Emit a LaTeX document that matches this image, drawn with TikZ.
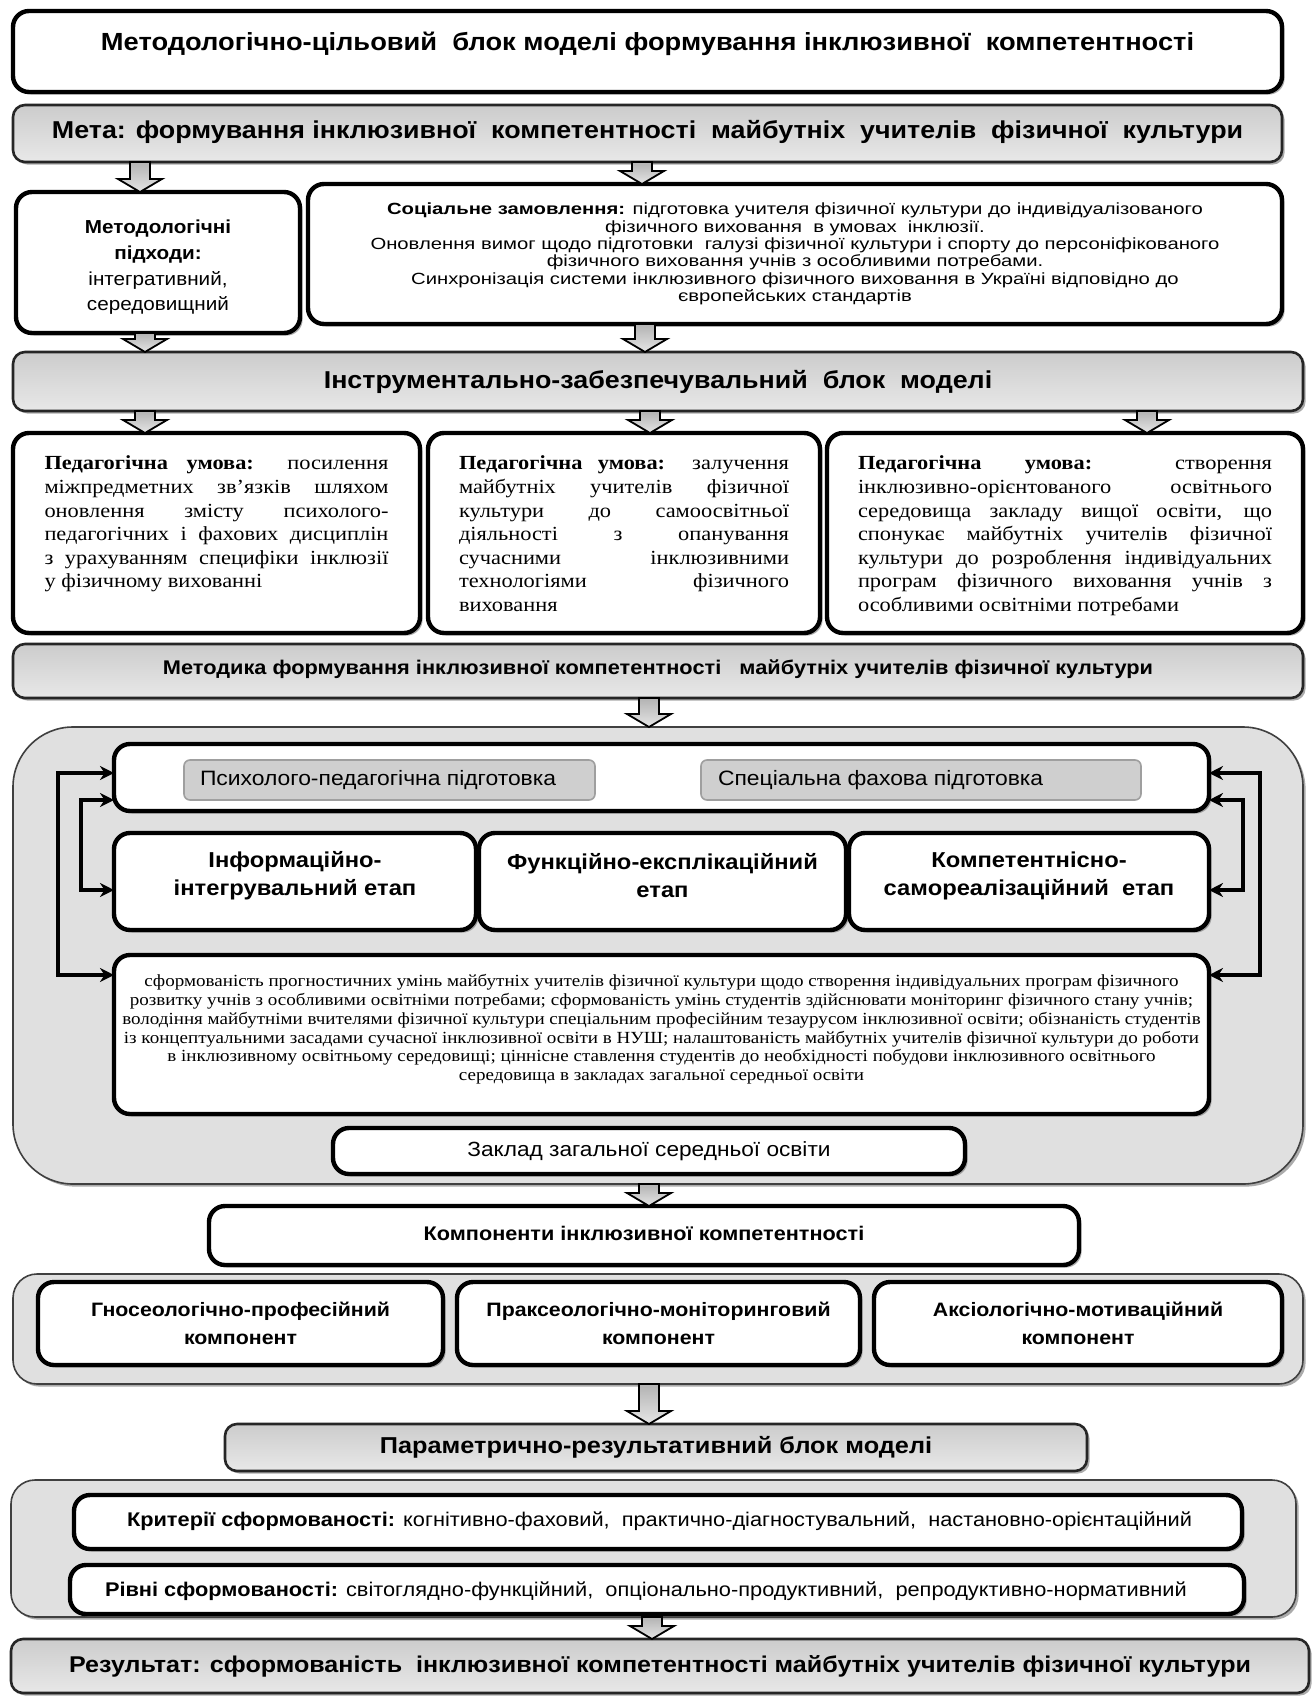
\documentclass[tikz,border=0pt]{standalone}
\usepackage{fontspec}
\setmainfont[FakeStretch=1.1]{Liberation Sans}
\newfontfamily\widesans[FakeStretch=1.25]{Liberation Sans}
\newfontfamily\serifcy[FakeStretch=1.12]{Liberation Serif}
\usetikzlibrary{fit,shadows,arrows.meta,calc}
\newcommand\fs[2]{\fontsize{#1}{#2}\selectfont}
\newcommand\jl[2]{\makebox[#1][s]{#2}}
\newcommand\tbox[5]{\node[#1, fit={#2}] (#3) {};\node[#4] (#3t) at (#3.center) {#5};}
\newcommand\barrow[3]{%
  \draw[barrowsty] let \p1=(#2.south), \p2=(#3.north), \n1={#1*0.5} in
   (\n1pt-5pt,\y1) -- (\n1pt+5pt,\y1) -- (\n1pt+5pt,\y2+6.5pt) -- (\n1pt+11pt,\y2+6.5pt)
   -- (\n1pt,\y2) -- (\n1pt-11pt,\y2+6.5pt) -- (\n1pt-5pt,\y2+6.5pt) -- cycle;}
\tikzset{
  every node/.style={inner sep=0pt, outer sep=0pt},
  shad/.style={drop shadow={shadow xshift=1.3pt, shadow yshift=-1.3pt, fill=black!55, opacity=0.6}},
  wbox/.style={draw=black, line width=2.2pt, fill=white, rounded corners=8pt, shad},
  gbox/.style={draw=black!85, line width=1.3pt, top color=gray!40, bottom color=gray!18, rounded corners=6pt, shad},
  cont/.style={draw=black!75, line width=0.8pt, fill=gray!24, rounded corners=12pt, shad},
  ibox/.style={draw=gray!75, line width=0.8pt, fill=gray!38, rounded corners=3pt},
  barrowsty/.style={draw=black, line width=0.9pt, top color=gray!60, bottom color=gray!20, line join=miter},
  sarrow/.style={line width=1.6pt, {Stealth[length=7pt,width=7pt]}-{Stealth[length=7pt,width=7pt]}},
  htxt/.style={font=\fs{12.2}{14}\bfseries},
  stxt/.style={font=\fs{10.8}{14}\bfseries, align=center},
  ctxt/.style={font=\fs{9.7}{14}\bfseries, align=center},
  ptxt/.style={font=\serifcy\fs{10}{11.8}, align=justify, anchor=north},
}
\begin{document}
\begin{tikzpicture}[x=0.5pt, y=-0.5pt]
\useasboundingbox (0,0) rectangle (1312,1696);
\fill[white] (0,0) rectangle (1312,1696);

% ---- methodological block
\tbox{wbox}{(13,11)(1282,92)}{title}{htxt, font=\fs{12.4}{14}\bfseries, yshift=4pt}
  {Методологічно-цільовий\ \ блок моделі формування інклюзивної\ \ компетентності}
\tbox{gbox}{(13,105)(1282,162)}{meta}{htxt, yshift=1pt}
  {Мета: формування інклюзивної\ \ компетентності\ \ майбутніх\ \ учителів\ \ фізичної\ \ культури}

\node[wbox, fit={(16,192)(300,333)}] (pidh) {};
\node[align=center, font=\fs{9.4}{12.8}] (pidht) at ($(pidh.center)+(0,5)$)
  {\textbf{Методологічні}\\\textbf{підходи:}\\інтегративний,\\середовищний};
\tbox{wbox}{(308,184)(1282,324)}{soc}{align=center, font=\widesans\fs{8.1}{8.7}}
  {\textbf{Соціальне замовлення:} підготовка учителя фізичної культури до індивідуалізованого\\
   фізичного виховання\ \ в умовах\ \ інклюзії.\\
   Оновлення вимог щодо підготовки\ \ галузі фізичної культури і спорту до персоніфікованого\\
   фізичного виховання учнів з особливими потребами.\\
   Синхронізація системи інклюзивного фізичного виховання в Україні відповідно до\\
   європейських стандартів}

% ---- instrumental block
\tbox{gbox}{(13,352)(1303,411)}{instr}{htxt}{Інструментально-забезпечувальний\ \ блок\ \ моделі}

\node[wbox, fit={(13,433)(420,633)}] (pu1) {};
\node[ptxt, text width=172pt] (pu1t) at ($(pu1.north)+(0,23)$)
  {\jl{172pt}{\textbf{Педагогічна умова:} посилення}\\
   \jl{172pt}{міжпредметних зв’язків шляхом}\\
   \jl{172pt}{оновлення змісту психолого-}\\
   \jl{172pt}{педагогічних і фахових дисциплін}\\
   \jl{172pt}{з урахуванням специфіки інклюзії}\\
   \makebox[172pt][l]{у фізичному вихованні}};
\node[wbox, fit={(428,433)(820,633)}] (pu2) {};
\node[ptxt, text width=165pt] (pu2t) at ($(pu2.north)+(0,23)$)
  {\jl{165pt}{\textbf{Педагогічна умова:} залучення}\\
   \jl{165pt}{майбутніх учителів фізичної}\\
   \jl{165pt}{культури до самоосвітньої}\\
   \jl{165pt}{діяльності з опанування}\\
   \jl{165pt}{сучасними інклюзивними}\\
   \jl{165pt}{технологіями фізичного}\\
   \makebox[165pt][l]{виховання}};
\node[wbox, fit={(827,433)(1303,633)}] (pu3) {};
\node[ptxt, text width=207pt] (pu3t) at ($(pu3.north)+(0,23)$)
  {\jl{207pt}{\textbf{Педагогічна умова:} створення}\\
   \jl{207pt}{інклюзивно-орієнтованого освітнього}\\
   \jl{207pt}{середовища закладу вищої освіти, що}\\
   \jl{207pt}{спонукає майбутніх учителів фізичної}\\
   \jl{207pt}{культури до розроблення індивідуальних}\\
   \jl{207pt}{програм фізичного виховання учнів з}\\
   \makebox[207pt][l]{особливими освітніми потребами}};

\tbox{gbox}{(13,644)(1303,698)}{metod}{font=\fs{9.9}{11}\bfseries, yshift=1pt}
  {Методика формування інклюзивної компетентності\ \ \ майбутніх учителів фізичної культури}

% ---- big container
\node[cont, rounded corners=30pt, fit={(13,727)(1303,1184)}] (cont1) {};
\node[wbox, fit={(114,744)(1209,811)}] (prep) {};
\node[ibox, fit={(184,760)(595,800)}] (psy) {};
\node[ibox, fit={(701,760)(1141,800)}] (spec) {};
\node[anchor=west, font=\fs{10.4}{11}] (psyt) at (200,780) {Психолого-педагогічна підготовка};
\node[anchor=west, font=\fs{10.4}{11}] (spect) at (718,780) {Спеціальна фахова підготовка};

\tbox{wbox}{(114,833)(476,930)}{st1}{stxt, yshift=3pt}{Інформаційно-\\інтегрувальний етап}
\tbox{wbox}{(479,833)(846,930)}{st2}{stxt, yshift=3pt}{Функційно-експлікаційний\\етап}
\tbox{wbox}{(849,833)(1209,930)}{st3}{stxt, yshift=3pt}{Компетентнісно-\\самореалізаційний\ \ етап}

\tbox{wbox}{(114,955)(1209,1114)}{res}{align=center, font=\serifcy\fs{8.5}{9.4}, yshift=2.5pt}
  {сформованість прогностичних умінь майбутніх учителів фізичної культури щодо створення індивідуальних програм фізичного\\
   розвитку учнів з особливими освітніми потребами; сформованість умінь студентів здійснювати моніторинг фізичного стану учнів;\\
   володіння майбутніми вчителями фізичної культури спеціальним професійним тезаурусом інклюзивної освіти; обізнаність студентів\\
   із концептуальними засадами сучасної інклюзивної освіти в НУШ; налаштованість майбутніх учителів фізичної культури до роботи\\
   в інклюзивному освітньому середовищі; ціннісне ставлення студентів до необхідності побудови інклюзивного освітнього\\
   середовища в закладах загальної середньої освіти}

\tbox{wbox}{(333,1128)(965,1174)}{zaklad}{font=\fs{10.3}{11}}{Заклад загальної середньої освіти}

\coordinate (L1) at (58,773);  \coordinate (L2) at (58,975);
\coordinate (L3) at (81,800);  \coordinate (L4) at (81,890);
\coordinate (R1) at (1260,773); \coordinate (R2) at (1260,975);
\coordinate (R3) at (1243,800); \coordinate (R4) at (1243,890);
\draw[sarrow] (prep.west |- L1) -- (L1) -- (L2) -- (res.west |- L2);
\draw[sarrow] (prep.west |- L3) -- (L3) -- (L4) -- (st1.west |- L4);
\draw[sarrow] (prep.east |- R1) -- (R1) -- (R2) -- (res.east |- R2);
\draw[sarrow] (prep.east |- R3) -- (R3) -- (R4) -- (st3.east |- R4);

% ---- components
\tbox{wbox}{(209,1206)(1079,1265)}{komp}{font=\fs{9.85}{11}\bfseries, yshift=1pt}{Компоненти інклюзивної компетентності}
\node[cont, fit={(13,1274)(1303,1384)}] (cont2) {};
\tbox{wbox}{(38,1282)(443,1365)}{c1}{ctxt}{Гносеологічно-професійний\\компонент}
\tbox{wbox}{(457,1282)(860,1365)}{c2}{ctxt}{Праксеологічно-моніторинговий\\компонент}
\tbox{wbox}{(874,1282)(1282,1365)}{c3}{ctxt}{Аксіологічно-мотиваційний\\компонент}

% ---- parametric block
\tbox{gbox}{(225,1424)(1087,1471)}{param}{font=\fs{11.5}{13}\bfseries}{Параметрично-результативний блок моделі}
\node[cont, fit={(11,1480)(1296,1617)}] (cont3) {};
\node[wbox, fit={(74,1495)(1242,1549)}] (krit) {};
\node[anchor=west, font=\fs{9.9}{11}] (kritt) at (127,1521)
  {\textbf{Критерії сформованості:} когнітивно-фаховий,\ \ практично-діагностувальний,\ \ настановно-орієнтаційний};
\node[wbox, fit={(70,1565)(1244,1614)}] (rivni) {};
\node[anchor=west, font=\fs{9.9}{11}] (rivnit) at (105,1591)
  {\textbf{Рівні сформованості:} світоглядно-функційний,\ \ опціонально-продуктивний,\ \ репродуктивно-нормативний};
\tbox{gbox}{(11,1639)(1309,1693)}{result}{font=\fs{11.4}{13}\bfseries}
  {Результат: сформованість\ \ інклюзивної компетентності майбутніх учителів фізичної культури}

% ---- block arrows
\barrow{140}{meta}{pidh}
\barrow{642}{meta}{soc}
\barrow{145}{pidh}{instr}
\barrow{645}{soc}{instr}
\barrow{145}{instr}{pu1}
\barrow{650}{instr}{pu2}
\barrow{1147}{instr}{pu3}
\barrow{649}{metod}{cont1}
\barrow{649}{cont1}{komp}
\barrow{649}{cont2}{param}
\barrow{652}{cont3}{result}
\end{tikzpicture}
\end{document}
